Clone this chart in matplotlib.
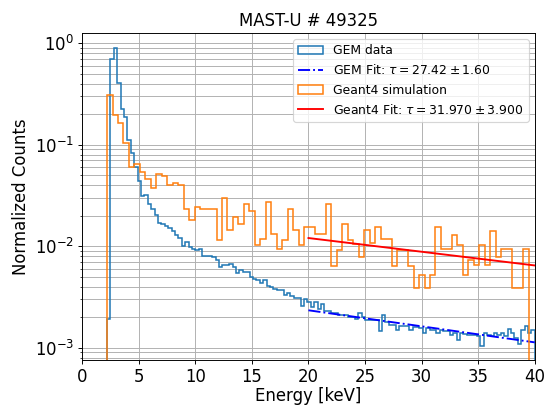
import numpy as np
import matplotlib
matplotlib.use("Agg")
import matplotlib.pyplot as plt

# GEM data histogram: 126 bins from 2.2 to 40 keV
gem_lo, gem_hi, gem_nbins = 2.2, 40.0, 126
gem_counts = [
    0.0019, 0.70, 0.90, 0.405, 0.226, 0.186, 0.112, 0.083, 0.060, 0.0436,
    0.0315, 0.032, 0.0262, 0.0233, 0.0205, 0.0171, 0.0167, 0.0157, 0.0150, 0.0140,
    0.0130, 0.0120, 0.0101, 0.0109, 0.0098, 0.0094, 0.0091, 0.0093, 0.0080, 0.0081,
    0.0080, 0.0078, 0.0073, 0.0063, 0.0066, 0.0066, 0.0067, 0.0063, 0.0055, 0.0058,
    0.0056, 0.0056, 0.0050, 0.0048, 0.0046, 0.0043, 0.0046, 0.0041, 0.0040, 0.0038,
    0.0037, 0.0037, 0.0033, 0.0035, 0.0032, 0.0031, 0.0031, 0.0026, 0.0030, 0.0028,
    0.0025, 0.0028, 0.0024, 0.0027, 0.0023, 0.0023, 0.0022, 0.0022, 0.0021, 0.0021,
    0.0021, 0.0020, 0.0020, 0.0019, 0.0022, 0.0020, 0.00186, 0.00186, 0.00186, 0.00186,
    0.00146, 0.0021, 0.0018, 0.00169, 0.00169, 0.0015, 0.00165, 0.00165, 0.00165, 0.0015,
    0.0016, 0.0016, 0.00155, 0.0014, 0.00155, 0.00148, 0.00148, 0.0014, 0.0015, 0.00145,
    0.00147, 0.00134, 0.0014, 0.00118, 0.0014, 0.00138, 0.00135, 0.00133, 0.00135, 0.0013,
    0.00105, 0.0014, 0.00135, 0.0013, 0.0014, 0.00135, 0.0014, 0.0013, 0.00153, 0.0014,
    0.00125, 0.00109, 0.0015, 0.00162, 0.0014, 0.00148,
]

# Geant4 simulation histogram: 77 bins from 2.2 to 39.45 keV
g4_lo, g4_hi, g4_nbins = 2.2, 39.45, 77
g4_counts = [
    0.311, 0.197, 0.164, 0.104, 0.060, 0.065, 0.0534, 0.046, 0.0375, 0.0518,
    0.0488, 0.0403, 0.0418, 0.0403, 0.0233, 0.0182, 0.0243, 0.0235, 0.0235, 0.0235,
    0.0114, 0.0298, 0.0144, 0.0193, 0.0166, 0.0262, 0.0221, 0.0103, 0.0118, 0.0272,
    0.0132, 0.0093, 0.0114, 0.0233, 0.0143, 0.0103, 0.0155, 0.0155, 0.0131, 0.0131,
    0.0258, 0.0064, 0.0092, 0.0167, 0.0116, 0.0105, 0.0078, 0.0144, 0.0107, 0.0155,
    0.0118, 0.0118, 0.0064, 0.0092, 0.0092, 0.0064, 0.0039, 0.0052, 0.0039, 0.0052,
    0.0155, 0.0093, 0.0093, 0.0130, 0.0103, 0.0052, 0.0074, 0.0065, 0.0103, 0.0065,
    0.0142, 0.0078, 0.0093, 0.0093, 0.0039, 0.0039, 0.0093,
]

# Fit lines (endpoints)
fit_x = [20.0, 40.0]
gem_fit_y = [0.00234, 0.00113]
g4_fit_y = [0.01205, 0.00647]
gem_fit_label = r'GEM Fit: $\tau = 27.42 \pm 1.60$'
g4_fit_label = r'Geant4 Fit: $\tau = 31.970 \pm 3.900$'

fig, ax = plt.subplots(figsize=(6.4, 4.8), dpi=85)
fig.subplots_adjust(left=0.151, right=0.983, top=0.919, bottom=0.118)

gem_edges = np.linspace(gem_lo, gem_hi, gem_nbins + 1)
g4_edges = np.linspace(g4_lo, g4_hi, g4_nbins + 1)
gem_centers = 0.5 * (gem_edges[1:] + gem_edges[:-1])
g4_centers = 0.5 * (g4_edges[1:] + g4_edges[:-1])

ax.hist(gem_centers, bins=gem_edges, weights=gem_counts, histtype='step',
        color='C0', lw=1.3, label='GEM data')
ax.plot(fit_x, gem_fit_y, color='blue', ls='-.', lw=1.6, label=gem_fit_label)
ax.hist(g4_centers, bins=g4_edges, weights=g4_counts, histtype='step',
        color='C1', lw=1.3, label='Geant4 simulation')
ax.plot(fit_x, g4_fit_y, color='red', ls='-', lw=1.6, label=g4_fit_label)

ax.set_yscale('log')
ax.set_xlim(0, 40)
ax.set_ylim(7.6e-4, 1.26)
ax.grid(True, which='both')
ax.set_xlabel('Energy [keV]', fontsize=14, labelpad=1)
ax.set_ylabel('Normalized Counts', fontsize=14)
ax.set_title('MAST-U # 49325', fontsize=14)
ax.tick_params(axis='both', which='major', labelsize=14)
ax.legend(loc='upper right', fontsize=10.5)

fig.savefig('out.png', dpi=85)
